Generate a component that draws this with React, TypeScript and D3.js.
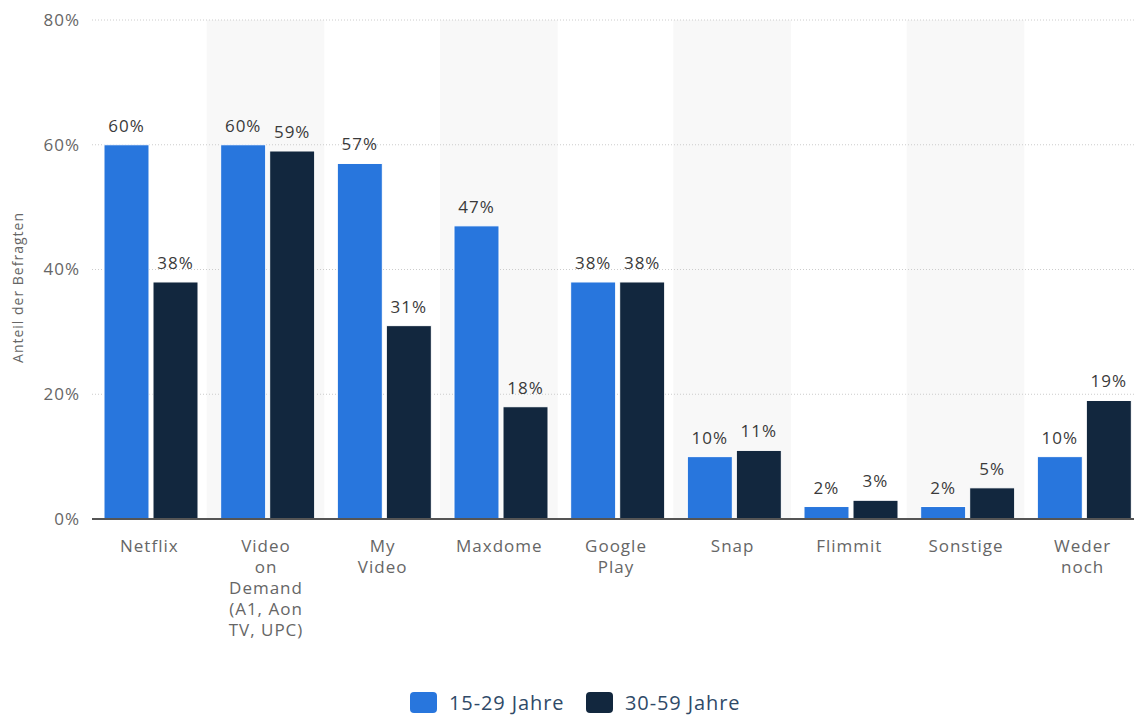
import React, { useEffect, useRef } from 'react';
import * as d3 from 'd3';

const categories = [
  'Netflix',
  'Video on Demand (A1, Aon TV, UPC)',
  'My Video',
  'Maxdome',
  'Google Play',
  'Snap',
  'Flimmit',
  'Sonstige',
  'Weder noch',
];
const categoryLines = [
  ['Netflix'],
  ['Video', 'on', 'Demand', '(A1, Aon', 'TV, UPC)'],
  ['My', 'Video'],
  ['Maxdome'],
  ['Google', 'Play'],
  ['Snap'],
  ['Flimmit'],
  ['Sonstige'],
  ['Weder', 'noch'],
];
const young = [60, 60, 57, 47, 38, 10, 2, 2, 10];
const older = [38, 59, 31, 18, 38, 11, 3, 5, 19];
const seriesNames = ['15-29 Jahre', '30-59 Jahre'];
const seriesColors = ['#2876dd', '#12273e'];
const yTicks = [0, 20, 40, 60, 80];

const W = 1134;
const H = 716;
const FONT = '"Open Sans", "DejaVu Sans", sans-serif';

const App: React.FC = () => {
  const svgRef = useRef<SVGSVGElement>(null);

  useEffect(() => {
    if (!svgRef.current) return;
    const svg = d3.select(svgRef.current);
    svg.selectAll('*').remove();

    // plot runs slightly past the right edge, like the original
    const margin = { top: 20, bottom: 197, left: 90 };
    const innerWidth = 1050;
    const innerHeight = H - margin.top - margin.bottom;
    const visibleRight = W - margin.left;

    const g = svg.append('g').attr('transform', `translate(${margin.left},${margin.top})`);

    const x0 = d3.scaleBand<string>().domain(categories).range([0, innerWidth]).paddingInner(0);
    const x1 = d3
      .scaleBand<string>()
      .domain(seriesNames)
      .range([14, 108])
      .paddingInner(0.082);
    const y = d3.scaleLinear().domain([0, 80]).range([innerHeight, 0]);

    // alternating band shading
    g.selectAll('.band')
      .data(categories.filter((_, i) => i % 2 === 1))
      .enter()
      .append('rect')
      .attr('x', d => x0(d)!)
      .attr('y', 0)
      .attr('width', x0.bandwidth() + 1)
      .attr('height', innerHeight)
      .attr('fill', '#f8f8f8');

    // grid lines
    g.selectAll('.grid')
      .data(yTicks.filter(t => t > 0))
      .enter()
      .append('line')
      .attr('x1', 2)
      .attr('x2', visibleRight)
      .attr('y1', d => y(d))
      .attr('y2', d => y(d))
      .attr('stroke', '#cccccc')
      .attr('stroke-width', 1)
      .attr('stroke-dasharray', '1,2');

    // y tick labels
    g.selectAll('.ytick')
      .data(yTicks)
      .enter()
      .append('text')
      .attr('x', -10)
      .attr('y', d => y(d))
      .attr('dy', '0.35em')
      .attr('text-anchor', 'end')
      .style('font-family', FONT)
      .style('font-size', '17px')
      .style('letter-spacing', '1px')
      .attr('fill', '#666666')
      .text(d => `${d}%`);

    // bars
    const series = [young, older];
    series.forEach((vals, si) => {
      g.selectAll(`.bar${si}`)
        .data(vals)
        .enter()
        .append('rect')
        .attr('x', (_, i) => x0(categories[i])! + x1(seriesNames[si])!)
        .attr('y', d => y(d))
        .attr('width', x1.bandwidth())
        .attr('height', d => innerHeight - y(d))
        .attr('fill', seriesColors[si])
        .attr('stroke', '#ffffff')
        .attr('stroke-width', 1);

      g.selectAll(`.lbl${si}`)
        .data(vals)
        .enter()
        .append('text')
        .attr('x', (_, i) => x0(categories[i])! + x1(seriesNames[si])! + x1.bandwidth() / 2)
        .attr('y', d => y(d) - 13)
        .attr('text-anchor', 'middle')
        .style('font-family', FONT)
        .style('font-size', '17px')
        .style('letter-spacing', '1px')
        .attr('fill', '#3a3a3a')
        .text(d => `${d}%`);
    });

    // x axis line
    g.append('line')
      .attr('x1', 2)
      .attr('x2', visibleRight)
      .attr('y1', innerHeight)
      .attr('y2', innerHeight)
      .attr('stroke', '#555555')
      .attr('stroke-width', 2);

    // x labels
    categories.forEach((c, i) => {
      const cx = x0(c)! + x0.bandwidth() / 2 + 1;
      const t = g
        .append('text')
        .attr('x', cx)
        .attr('y', innerHeight + 33)
        .attr('text-anchor', 'middle')
        .style('font-family', FONT)
        .style('font-size', '17px')
        .style('letter-spacing', '1px')
        .attr('fill', '#666666');
      categoryLines[i].forEach((line, li) => {
        t.append('tspan')
          .attr('x', cx)
          .attr('dy', li === 0 ? 0 : 21)
          .text(line);
      });
    });

    // y axis title
    svg
      .append('text')
      .attr('transform', `translate(23,${margin.top + innerHeight / 2 + 18}) rotate(-90)`)
      .attr('text-anchor', 'middle')
      .style('font-family', FONT)
      .style('font-size', '14px')
      .style('letter-spacing', '1px')
      .attr('fill', '#666666')
      .text('Anteil der Befragten');

    // legend
    const legend = svg.append('g').attr('transform', 'translate(410,692)');
    const offsets = [0, 176];
    seriesNames.forEach((s, i) => {
      const lg = legend.append('g').attr('transform', `translate(${offsets[i]},0)`);
      lg.append('rect')
        .attr('width', 27)
        .attr('height', 21)
        .attr('rx', 4)
        .attr('fill', seriesColors[i]);
      lg.append('text')
        .attr('x', 39)
        .attr('y', 11)
        .attr('dy', '0.36em')
        .style('font-family', FONT)
        .style('font-size', '20px')
        .style('letter-spacing', '0.9px')
        .attr('fill', '#2f4a68')
        .text(s);
    });
  }, []);

  return (
    <svg
      ref={svgRef}
      width={W}
      height={H}
      style={{ display: 'block', position: 'absolute', left: 0, top: 0, background: '#fff' }}
    />
  );
};

export default App;
